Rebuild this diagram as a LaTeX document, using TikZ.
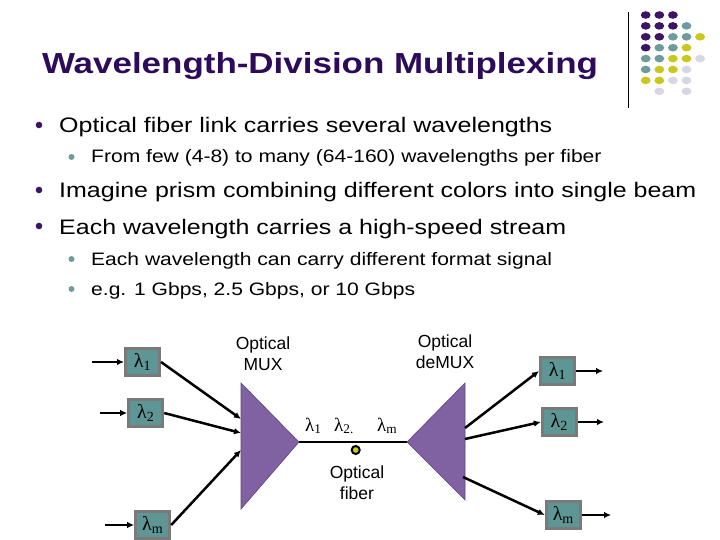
\documentclass[tikz,border=0pt]{standalone}
\usepackage{fontspec}
\setmainfont{Liberation Sans}
\newfontfamily\lamfont{Liberation Serif}
\usepackage{graphicx}
\usepackage{tikz}
\usetikzlibrary{arrows.meta,positioning}
\definecolor{ctitle}{HTML}{2D0A5A}
\definecolor{cpurp}{HTML}{3D1462}
\definecolor{cteal}{HTML}{6E9C9C}
\definecolor{cyell}{HTML}{C8C81E}
\definecolor{clav}{HTML}{D6D6E6}
\definecolor{cbox}{HTML}{5E9696}
\definecolor{cboxD}{HTML}{7A7A7A}
\definecolor{cprism}{HTML}{8062A2}
\definecolor{cprismD}{HTML}{5F4480}
\definecolor{cdot}{HTML}{CCCC10}
\newcommand{\stretchtxt}[2][1.17]{\scalebox{#1}[1]{#2}}
\tikzset{
  title/.style={font=\fontsize{29}{34}\selectfont\bfseries, text=ctitle,
                inner sep=0pt, anchor=base},
  lvlone/.style={font=\fontsize{21}{25}\selectfont, inner sep=0pt, anchor=base west},
  lvltwo/.style={font=\fontsize{18}{22}\selectfont, inner sep=0pt, anchor=base west},
  lbox/.style={draw=cboxD, fill=cbox, line width=3pt, minimum width=34pt,
               minimum height=27pt, inner sep=0pt,
               font=\lamfont\fontsize{20}{20}\selectfont},
  lbl/.style={font=\fontsize{17.5}{21}\selectfont, align=center, inner sep=0pt, anchor=north},
  lam/.style={font=\lamfont\fontsize{19}{19}\selectfont, inner sep=0pt, anchor=base west},
  prism/.style={fill=cprism, draw=cprismD, line width=0.6pt},
  flow/.style={-{Latex[length=7pt,width=6.5pt]}, line width=2.5pt},
  fiber/.style={line width=2.5pt},
  fdot/.style={circle, fill=cdot, draw=black, line width=2pt, minimum size=8pt, inner sep=0pt},
}

\begin{document}
\begin{tikzpicture}[x=1pt, y=-1pt]
  \useasboundingbox (0,0) rectangle (720,540);
  % logo corner
  \draw[black, line width=0.8pt] (628,12) -- (628,108);
  \foreach \c/\r/\col in {0/0/cpurp, 1/0/cpurp, 2/0/cpurp,
      0/1/cpurp, 1/1/cpurp, 2/1/cpurp, 3/1/cteal,
      0/2/cpurp, 1/2/cpurp, 2/2/cteal, 3/2/cteal, 4/2/cyell,
      0/3/cpurp, 1/3/cteal, 2/3/cteal, 3/3/cyell,
      0/4/cteal, 1/4/cteal, 2/4/cyell, 3/4/cyell, 4/4/clav,
      0/5/cteal, 1/5/cyell, 2/5/cyell, 3/5/clav,
      0/6/cyell, 1/6/cyell, 2/6/clav, 3/6/clav,
      1/7/clav, 3/7/clav}
    \fill[\col] (645.7+13.6*\c, 15+10.9*\r) ellipse (4.9 and 3.8);

  % title and bullets
  \node[title] (ttl) at (320,74) {\stretchtxt[1.205]{Wavelength-Division Multiplexing}};
  \fill[cpurp] (39,125) circle (3.3);
  \node[lvlone] (t1) at (59,133) {\stretchtxt[1.19]{Optical fiber link carries several wavelengths}};
  \fill[cteal] (71.5,157) circle (3);
  \node[lvltwo] (t2) at (91,163) {\stretchtxt{From few (4-8) to many (64-160) wavelengths per fiber}};
  \fill[cpurp] (39,190) circle (3.3);
  \node[lvlone] (t3) at (59,198) {\stretchtxt[1.19]{Imagine prism combining different colors into single beam}};
  \fill[cpurp] (39,226) circle (3.3);
  \node[lvlone] (t4) at (59,234) {\stretchtxt[1.19]{Each wavelength carries a high-speed stream}};
  \fill[cteal] (71.5,259) circle (3);
  \node[lvltwo] (t5) at (91,265) {\stretchtxt{Each wavelength can carry different format signal}};
  \fill[cteal] (71.5,289) circle (3);
  \node[lvltwo] (t6) at (91,295) {\stretchtxt{e.g. 1 Gbps, 2.5 Gbps, or 10 Gbps}};

  % mux and demux
  \draw[prism] (241,383) -- (299,442) coordinate (muxo) -- (241,509) -- cycle;
  \draw[prism] (407,442) coordinate (dmxi) -- (465,383) -- (465,500) -- cycle;
  \coordinate (m1) at (241,419);
  \coordinate (m2) at (241,433);
  \coordinate (m3) at (241,450);
  \coordinate (d1) at (465,428);
  \coordinate (d2) at (465,439);
  \coordinate (d3) at (463,477);
  \node[lbl] (mlbl) at (263,337) {Optical\\MUX};
  \node[lbl] (dlbl) at (445,335) {Optical\\deMUX};

  % wavelength boxes
  \node[lbox] (l1) at (142.5,362) {λ\textsubscript{1}};
  \node[lbox] (l2) at (145.7,413) {λ\textsubscript{2}};
  \node[lbox] (lm) at (152.7,525) {λ\textsubscript{m}};
  \node[lbox] (r1) at (557.5,371) {λ\textsubscript{1}};
  \node[lbox] (r2) at (559.3,422) {λ\textsubscript{2}};
  \node[lbox] (rm) at (563.3,515) {λ\textsubscript{m}};
  \coordinate (i1) at (92,362);
  \coordinate (i2) at (100,413);
  \coordinate (im) at (105,525);
  \coordinate (o1) at (603,371);
  \coordinate (o2) at (604,422);
  \coordinate (om) at (611,515);

  \draw[flow] (i1) -- (l1); \draw[flow] (i2) -- (l2); \draw[flow] (im) -- (lm);
  \draw[flow] (l1.east) -- (m1); \draw[flow] (l2.east) -- (m2); \draw[flow] (lm.east) -- (m3);
  \draw[flow] (d1) -- (r1.west); \draw[flow] (d2) -- (r2.west); \draw[flow] (d3) -- (rm.west);
  \draw[flow] (r1) -- (o1); \draw[flow] (r2) -- (o2); \draw[flow] (rm) -- (om);

  % fiber
  \draw[fiber] (muxo) -- (dmxi);
  \node[fdot] (dot) at (355.7,450) {};
  \node[lam] (f1) at (305,431) {λ\textsubscript{1}};
  \node[lam] (f2) at (334,431) {λ\textsubscript{2.}};
  \node[lam] (fm) at (377,431) {λ\textsubscript{m}};
  \node[lbl] (flbl) at (357,466) {Optical\\fiber};
\end{tikzpicture}
\end{document}
